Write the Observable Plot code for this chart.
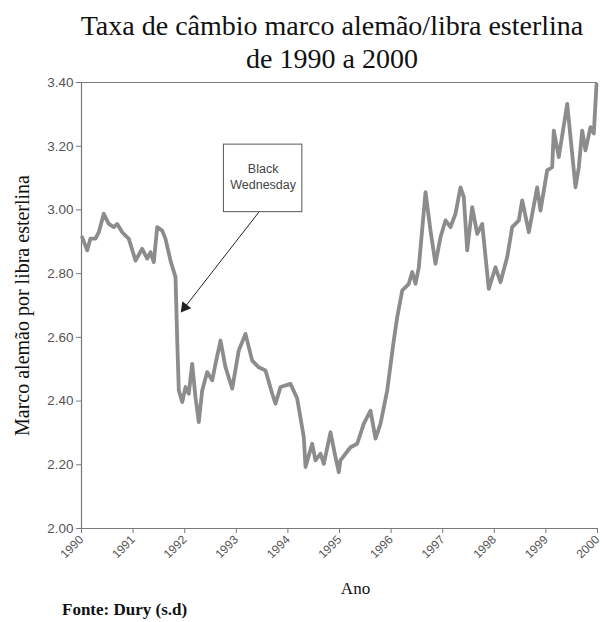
<!DOCTYPE html>
<html>
<head>
<meta charset="utf-8">
<script src="https://cdn.jsdelivr.net/npm/d3@7"></script>
<script src="https://cdn.jsdelivr.net/npm/@observablehq/plot@0.6"></script>
<style>
  html, body { margin: 0; padding: 0; background: #fff; }
  #title { font-family: "Liberation Serif", "Times New Roman", serif; font-size: 28px; line-height: 33px; text-align: center; padding: 9px 0 0 0; width: 664px; margin-left: 0; color: #111; height: 66px; }
  #caption { font-family: "Liberation Serif", "Times New Roman", serif; font-weight: bold; font-size: 17px; padding-left: 62px; line-height: 20px; color: #111; }
  svg { display: block; }
  .serif-label, .serif-label text { font-family: "Liberation Serif", "Times New Roman", serif !important; }
</style>
</head>
<body>
<div id="title">Taxa de câmbio marco alemão/libra esterlina<br>de 1990 a 2000</div>
<div id="chart"></div>
<div id="caption">Fonte: Dury (s.d)</div>
<script>
// decimal years
const years = [
  1990.014,1990.110,1990.174,1990.271,1990.335,1990.432,1990.529,1990.626,1990.692,1990.789,
  1990.917,1991.047,1991.176,1991.273,1991.337,1991.401,1991.467,1991.564,1991.628,1991.725,
  1991.822,1991.855,1991.886,1991.952,1992.016,1992.079,1992.145,1992.209,1992.273,1992.339,
  1992.436,1992.533,1992.597,1992.694,1992.791,1992.921,1993.048,1993.178,1993.308,1993.436,
  1993.566,1993.696,1993.760,1993.857,1994.050,1994.180,1994.308,1994.341,1994.471,1994.535,
  1994.632,1994.696,1994.826,1994.922,1994.986,1995.019,1995.213,1995.343,1995.471,1995.601,
  1995.698,1995.795,1995.924,1996.052,1996.118,1996.215,1996.343,1996.409,1996.473,1996.537,
  1996.667,1996.764,1996.860,1996.957,1997.054,1997.151,1997.248,1997.345,1997.409,1997.475,
  1997.572,1997.669,1997.766,1997.893,1998.023,1998.120,1998.250,1998.347,1998.475,1998.541,
  1998.669,1998.831,1998.895,1999.025,1999.122,1999.153,1999.250,1999.413,1999.477,1999.574,
  1999.638,1999.703,1999.767,1999.864,1999.928,1999.981
];
// DM per GBP
const rates = [
  2.914,2.873,2.910,2.910,2.930,2.988,2.956,2.946,2.956,2.930,
  2.909,2.841,2.878,2.847,2.867,2.836,2.946,2.935,2.909,2.841,
  2.789,2.590,2.433,2.397,2.444,2.423,2.517,2.412,2.334,2.433,
  2.491,2.465,2.517,2.590,2.506,2.439,2.559,2.611,2.527,2.506,
  2.496,2.423,2.392,2.444,2.454,2.408,2.287,2.193,2.266,2.214,
  2.235,2.203,2.302,2.224,2.177,2.214,2.255,2.266,2.329,2.370,
  2.282,2.329,2.433,2.590,2.663,2.747,2.768,2.805,2.768,2.820,
  3.056,2.935,2.831,2.914,2.967,2.946,2.988,3.071,3.040,2.873,
  3.009,2.925,2.956,2.752,2.820,2.773,2.852,2.946,2.967,3.030,
  2.930,3.071,2.998,3.124,3.134,3.249,3.166,3.333,3.228,3.071,
  3.134,3.249,3.187,3.260,3.240,3.394
];
const yearTicks = [1990,1991,1992,1993,1994,1995,1996,1997,1998,1999,2000];
const rateTicks = [2.00,2.20,2.40,2.60,2.80,3.00,3.20,3.40];
const yLabel = "Marco alemão por libra esterlina";
const xLabel = "Ano";
const annotLines = ["Black", "Wednesday"];
const annotLineY = [3.130, 3.077];
const annotBox = [{x1: 1992.76, x2: 1994.28, y1: 2.993, y2: 3.205}];
const annotArrow = [{x1: 1993.436, y1: 2.993, x2: 1991.951, y2: 2.684}];

const data = years.map((t, i) => ({t, v: rates[i]}));
const annotText = annotLines.map((s, i) => ({t: 1993.52, v: annotLineY[i], s}));

const gray = "#8c8c8c";
const axisGray = "#7a7a7a";

const chart = Plot.plot({
  width: 602,
  height: 525,
  marginTop: 7,
  marginLeft: 81,
  marginRight: 5,
  marginBottom: 72,
  style: {fontFamily: "'Liberation Sans', Arial, sans-serif", color: "#555", background: "#fff"},
  x: {domain: [1990, 2000]},
  y: {domain: [2, 3.4]},
  marks: [
    Plot.ruleY([3.4], {stroke: axisGray, strokeWidth: 1.2}),
    Plot.ruleY([2], {stroke: axisGray, strokeWidth: 1.2}),
    Plot.ruleX([1990], {stroke: axisGray, strokeWidth: 1.2}),
    Plot.axisY({ticks: rateTicks, tickFormat: d => d.toFixed(2), tickSize: 5, tickPadding: 3, fontSize: 13.5, stroke: axisGray, label: null}),
    Plot.axisX({ticks: yearTicks, tickFormat: d => String(d), tickSize: 5, tickRotate: -45, tickPadding: 4, fontSize: 12, stroke: axisGray, label: null}),
    Plot.line(data, {x: "t", y: "v", stroke: gray, strokeWidth: 3.8, strokeLinejoin: "round", strokeLinecap: "round"}),
    Plot.rect(annotBox, {x1: "x1", x2: "x2", y1: "y1", y2: "y2", fill: "white", stroke: "#555", strokeWidth: 1}),
    Plot.text(annotText, {x: "t", y: "v", text: "s", fontSize: 12.5, fill: "#444", textAnchor: "middle", lineAnchor: "middle"}),
    Plot.link(annotArrow, {x1: "x1", y1: "y1", x2: "x2", y2: "y2", stroke: "#222", strokeWidth: 1}),
    Plot.dot(annotArrow, {x: "x2", y: "y2", symbol: "triangle", r: 4.2, rotate: 218, dx: 2.6, dy: -3.3, fill: "#222", stroke: "none"}),
    Plot.text([yLabel], {text: d => d, frameAnchor: "left", rotate: -90, dx: -59, fontSize: 20, fill: "#111", textAnchor: "middle", lineAnchor: "middle", className: "serif-label"}),
    Plot.text([xLabel], {text: d => d, frameAnchor: "bottom", dx: 16, dy: 60, fontSize: 17, fill: "#111", textAnchor: "middle", lineAnchor: "middle", className: "serif-label"})
  ]
});
// make sure the axis titles use the serif face
d3.select(chart).selectAll("text").each(function() {
  const t = this.textContent;
  if (t === yLabel || t === xLabel) this.style.fontFamily = "'Liberation Serif', 'Times New Roman', serif";
});
document.getElementById("chart").appendChild(chart);
</script>
</body>
</html>
